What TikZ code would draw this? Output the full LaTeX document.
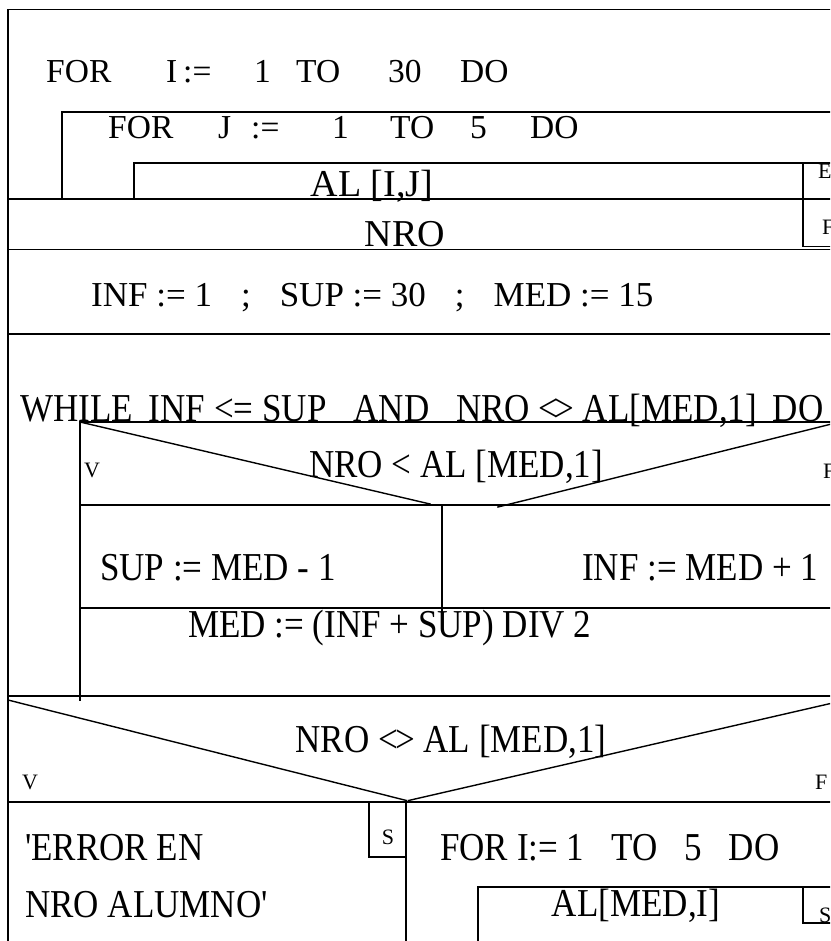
\documentclass[tikz,border=0pt]{standalone}
\usepackage{graphicx}
\usepackage{fontspec}
\setmainfont{Liberation Serif}
\newcommand{\tallt}[1]{\scalebox{1}[1.13]{#1}}
\begin{document}
\begin{tikzpicture}[x=1pt,y=-1pt,
  ln/.style={line width=1.4pt, line cap=rect},
  big/.style={anchor=base west, inner sep=0pt, font=\fontsize{35}{42}\selectfont},
  bigc/.style={anchor=base, inner sep=0pt, font=\fontsize{35}{42}\selectfont},
  bigger/.style={anchor=base, inner sep=0pt, font=\fontsize{38}{44}\selectfont},
  forr/.style={anchor=base west, inner sep=0pt, font=\fontsize{33.5}{40}\selectfont},
  lbl/.style={anchor=base west, inner sep=0pt, font=\fontsize{22}{26}\selectfont},
  lblc/.style={anchor=base, inner sep=0pt, font=\fontsize{22}{26}\selectfont}]
\useasboundingbox (0,0) rectangle (830,941);
\fill[white] (0,0) rectangle (830,941);
\clip (0,0) rectangle (830,941);

% ---------- structure lines ----------
\draw[ln] (8,960) -- (8,9.5) -- (850,9.5);
\draw[ln] (62,199) -- (62,112) -- (850,112);
\draw[ln] (134,199) -- (134,163) -- (850,163);
\draw[ln] (803,163) -- (803,246.5) -- (850,246.5);
\draw[ln] (8,199) -- (850,199);
\draw[ln] (8,249.5) -- (850,249.5);
\draw[ln] (8,334) -- (850,334);
% while body
\draw[ln] (80,700) -- (80,422) -- (850,422);
\draw[ln] (80,422) -- (430,504);
\draw[ln] (498,507) -- (850,419.4);
\draw[ln] (80,505) -- (850,505);
\draw[ln] (442,505) -- (442,617);
\draw[ln] (80,608) -- (850,608);
\draw[ln] (8,696) -- (850,696);
% second decision
\draw[ln] (8,700) -- (406.5,800.5);
\draw[ln] (408.5,800.5) -- (850,699);
\draw[ln] (8,802) -- (850,802);
\draw[ln] (406,802) -- (406,960);
\draw[ln] (369,802) -- (369,857) -- (406,857);
\draw[ln] (478,960) -- (478,887) -- (850,887);
\draw[ln] (803,887) -- (803,923) -- (850,923);

% ---------- texts ----------
\node[forr] (f1a) at (46,83) {FOR};
\node[forr] (f1b) at (166,83) {I};
\node[forr] (f1c) at (183,83) {:=};
\node[forr] (f1d) at (254,83) {1};
\node[forr] (f1e) at (296,83) {TO};
\node[forr] (f1f) at (388,83) {30};
\node[forr] (f1g) at (460,83) {DO};

\node[forr] (f2a) at (108,139) {FOR};
\node[forr] (f2b) at (218,139) {J};
\node[forr] (f2c) at (251,139) {:=};
\node[forr] (f2d) at (332,139) {1};
\node[forr] (f2e) at (390,139) {TO};
\node[forr] (f2f) at (470,139) {5};
\node[forr] (f2g) at (530,139) {DO};

\node[bigger] (alij) at (372,197) {AL [I,J]};
\node[lbl] (e) at (818,179) {E};
\node[bigger] (nro) at (405,247) {NRO};
\node[lbl] (f) at (822,234) {F};

\node[big] (init) at (91,306) {INF := 1\hspace{29pt};\hspace{29pt}SUP := 30\hspace{29pt};\hspace{29pt}MED := 15};

\node[big] (wh) at (20,421) {\tallt{WHILE\hspace{16pt}INF <= SUP\hspace{27pt}AND\hspace{27pt}NRO <\kern-0.12em> AL[MED,1]\hspace{16pt}DO}};

\node[bigc] (c1) at (456,477) {\tallt{NRO < AL [MED,1]}};
\node[lbl] (v1) at (84,477) {V};
\node[lbl] (fl1) at (823,478) {F};

\node[big] (sup) at (100,580) {\tallt{SUP := MED - 1}};
\node[big] (inf) at (582,580) {\tallt{INF := MED + 1}};
\node[big] (med) at (188,637) {\tallt{MED := (INF + SUP) DIV 2}};

\node[bigc] (c2) at (451,752) {\tallt{NRO <\kern-0.08em> AL [MED,1]}};
\node[lbl] (v2) at (22,789) {V};
\node[lbl] (fl2) at (815,789) {F};

\node[lblc] (s1) at (388,844) {S};
\node[big] (err1) at (25,860) {\tallt{\textquotesingle ERROR EN}};
\node[big] (err2) at (25,917) {\tallt{NRO ALUMNO\textquotesingle}};
\node[big] (for3) at (440,860) {\tallt{FOR I:= 1\hspace{27pt}TO\hspace{27pt}5\hspace{27pt}DO}};
\node[bigc] (almed) at (636,916) {\tallt{AL[MED,I]}};
\node[lbl] (s2) at (819,922) {S};
\end{tikzpicture}
\end{document}
